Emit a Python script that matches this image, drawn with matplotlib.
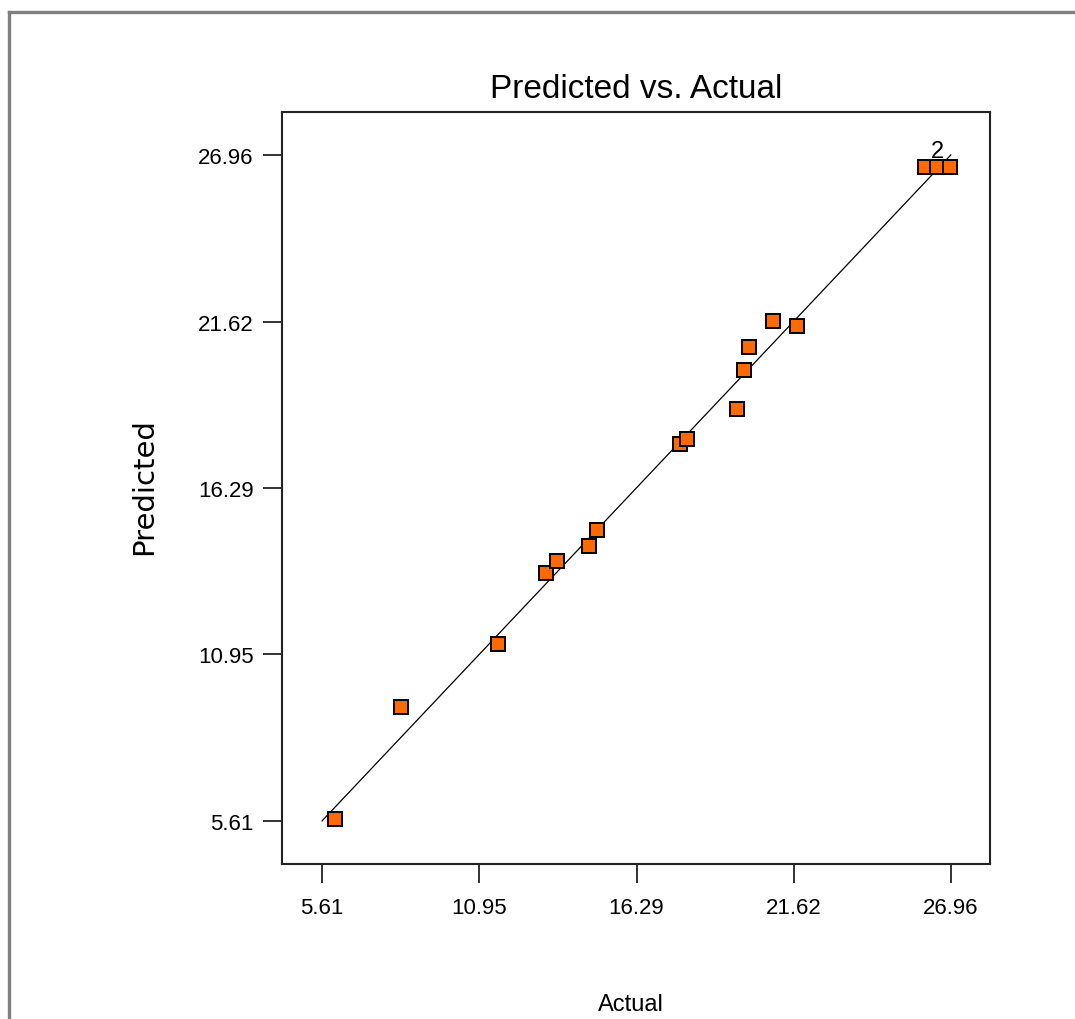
import numpy as np
import matplotlib.pyplot as plt
from matplotlib.lines import Line2D

# Actual vs predicted response values
actual = [6.05, 8.30, 11.60, 13.23, 13.60, 14.69, 14.93, 17.75, 17.99,
          19.69, 19.93, 20.10, 20.92, 21.73, 26.09, 26.49, 26.49, 26.94]
predicted = [5.67, 9.27, 11.29, 13.56, 13.95, 14.43, 14.94, 17.70, 17.86,
             18.82, 20.07, 20.81, 21.65, 21.49, 26.57, 26.57, 26.57, 26.57]
ticks = [5.61, 10.95, 16.29, 21.62, 26.96]
tick_labels = ["5.61", "10.95", "16.29", "21.62", "26.96"]

narrow = ["Liberation Sans Narrow", "Liberation Sans", "DejaVu Sans"]

fig = plt.figure(figsize=(10.75, 10.2), dpi=100)
ax = fig.add_axes([0.2623, 0.1520, 0.6586, 0.7373])

# 1:1 reference line
ax.plot([ticks[0], ticks[-1]], [ticks[0], ticks[-1]], color="black", lw=0.9, zorder=2)

ax.plot(actual, predicted, ls="none", marker="s", markersize=10.5,
        markerfacecolor="#ff6a00", markeredgecolor="black", markeredgewidth=1.4, zorder=3)

# replicate count for the overlapping run
ax.text(26.52, 26.72, "2", fontsize=17, family=narrow, ha="center", va="bottom", zorder=4)

ax.set_xlim(4.25, 28.29)
ax.set_ylim(4.23, 28.34)
ax.set_xticks(ticks)
ax.set_xticklabels(tick_labels)
ax.set_yticks(ticks)
ax.set_yticklabels(tick_labels)
for lab in ax.get_xticklabels() + ax.get_yticklabels():
    lab.set_family(narrow)
    lab.set_fontsize(16)
ax.tick_params(direction="out", length=13.5, width=1.4, color="#333333", pad=7)
ax.tick_params(axis="x", pad=10)
for sp in ax.spines.values():
    sp.set_linewidth(1.5)
    sp.set_color("#222222")

ax.set_title("Predicted vs. Actual", family=narrow, fontsize=24, pad=11)
fig.text(631 / 1075, 1 - 1005 / 1020, "Actual", family=narrow, fontsize=17,
         ha="center", va="center")
fig.text(144 / 1075, 1 - 487 / 1020, "Predicted", family="DejaVu Sans", fontsize=21,
         rotation=90, ha="center", va="center")

# gray page frame along the top and left edges
fig.add_artist(Line2D([8.5 / 1075, 1.0], [1 - 12.5 / 1020] * 2, color="#808080", lw=2.4,
                      transform=fig.transFigure))
fig.add_artist(Line2D([8.5 / 1075] * 2, [0.0, 1 - 12.5 / 1020], color="#808080", lw=2.4,
                      transform=fig.transFigure))

fig.savefig("out.png", dpi=100)
